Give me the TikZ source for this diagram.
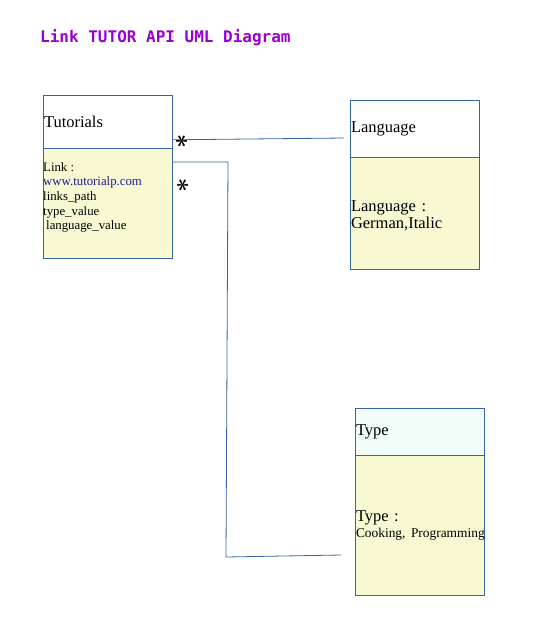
\documentclass[tikz,border=0pt]{standalone}
\usepackage{fontspec}
\setmainfont{Liberation Serif}
\newfontfamily\monofont{DejaVu Sans Mono}
\definecolor{umlblue}{RGB}{52,101,164}
\definecolor{bodyyellow}{RGB}{248,248,210}
\definecolor{headmint}{RGB}{242,252,248}
\definecolor{titlepurple}{RGB}{153,0,204}
\definecolor{linkblue}{RGB}{26,26,140}
\frenchspacing
\begin{document}
\begin{tikzpicture}[x=1pt,y=-1pt,line join=round,
	umlbox/.style={draw=umlblue,line width=0.8pt,anchor=north west,inner xsep=0.6pt,inner ysep=0pt,align=left,text width=127.8pt,font=\fontsize{16.5}{17.5}\selectfont},
	conn/.style={draw=umlblue,line width=0.8pt},
	mult/.style={inner sep=0pt,rotate=90,font=\boldmath\fontsize{34}{34}\selectfont}]
	\useasboundingbox (0,0) rectangle (534,633);
	\node[anchor=west,inner sep=0pt,text=titlepurple,font=\monofont\bfseries\fontsize{16}{16}\selectfont] (title) at (40,38) {Link TUTOR API UML Diagram};
	% Tutorials
	\node[umlbox,minimum height=53pt] (tutHead) at (43,95) {Tutorials};
	\node[umlbox,fill=bodyyellow,minimum height=110pt] (tutBody) at (43,148) {};
	\node[anchor=north west,inner sep=0pt,align=left,font=\fontsize{12.8}{14.7}\selectfont] (tutAttr) at (43,162) {Link :\\ \textcolor{linkblue}{www.tutorialp.com}\\ links\_path\\ type\_value\\ \hspace{3pt}language\_value};
	% Language
	\node[umlbox,minimum height=57pt] (langHead) at (350,100) {Language};
	\node[umlbox,fill=bodyyellow,minimum height=112pt] (langBody) at (350,157) {\\[-2pt]Language :\\ German,Italic};
	% Type
	\node[umlbox,fill=headmint,minimum height=47pt] (typeHead) at (355,408) {Type};
	\node[umlbox,fill=bodyyellow,minimum height=140pt,font=\fontsize{16.5}{16}\selectfont] (typeBody) at (355,455) {Type :\\ {\fontsize{13.4}{16}\selectfont\mbox{Cooking,\ Programming}}};
	% connectors
	\coordinate (langEnd) at (344,138);
	\coordinate (bendTop) at (228,162);
	\coordinate (bendLow) at (226,557);
	\coordinate (typeEnd) at (341,555);
	\draw[conn] ([yshift=9pt]tutHead.south east) -- (langEnd);
	\draw[conn] ([yshift=-14pt]tutBody.north east) -- (bendTop) -- (bendLow) -- (typeEnd);
	\node[mult] (multLang) at (182,141) {$\ast$};
	\node[mult] (multType) at (183,185) {$\ast$};
\end{tikzpicture}
\end{document}
